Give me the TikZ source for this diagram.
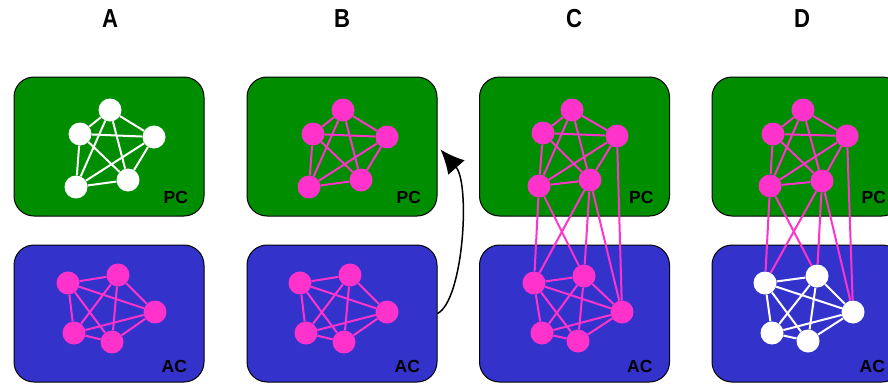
\documentclass[tikz,border=0pt]{standalone}
\usepackage{fontspec}
\setmainfont{Liberation Sans}
\usetikzlibrary{arrows.meta}

\definecolor{pcgreen}{RGB}{0,142,0}
\definecolor{acblue}{RGB}{51,51,204}
\definecolor{hub}{RGB}{255,51,204}

\tikzset{
  box/.style={draw=black, line width=1pt, rounded corners=20pt, inner sep=0pt,
    minimum width=190pt},
  pcbox/.style={box, fill=pcgreen, minimum height=139pt},
  acbox/.style={box, fill=acblue, minimum height=137pt},
  vtx/.style={circle, inner sep=0pt, minimum size=23pt, fill=#1},
  vtx/.default=hub,
  edge/.style={draw=#1, line width=2pt},
  edge/.default=hub,
  title/.style={font=\fontsize{26}{30}\selectfont\bfseries},
  area/.style={font=\fontsize{17.5}{20}\selectfont\bfseries, anchor=base east},
}

\newcommand{\clique}[2]{%
  \foreach \i/\j in {1/2,1/3,1/4,1/5,2/3,2/4,2/5,3/4,3/5,4/5}
    \draw[edge=#2] (#1\i) -- (#1\j);}

\begin{document}
\begin{tikzpicture}[x=1pt, y=-1pt]
  \useasboundingbox (0,0) rectangle (888,383);
  \clip (0,0) rectangle (888,383);

  % column headings
  \node[title] (tA) at (110,19) {\scalebox{0.85}[1]{A}};
  \node[title] (tB) at (342,19) {\scalebox{0.85}[1]{B}};
  \node[title] (tC) at (574,19) {\scalebox{0.85}[1]{C}};
  \node[title] (tD) at (802,19) {\scalebox{0.85}[1]{D}};

  % cortex boxes (y grows downwards here)
  \foreach \n/\x in {A/109, B/342, C/574.5, D/807} {
    \node[pcbox] (pc\n) at (\x,146.5) {};
    \node[acbox] (ac\n) at (\x,313.5) {};
    \node[area] (lpc\n) at ([shift={(-13,-13)}]pc\n.south east) {PC};
    \node[area] (lac\n) at ([shift={(-14,-10)}]ac\n.south east) {AC};
  }

  % ---- column A: white assembly in PC, pink assembly in AC
  \node[vtx=white] (Ap1) at (110,110) {};
  \node[vtx=white] (Ap2) at (80,134) {};
  \node[vtx=white] (Ap3) at (154,137) {};
  \node[vtx=white] (Ap4) at (76,187) {};
  \node[vtx=white] (Ap5) at (128,180) {};
  \clique{Ap}{white}
  \node[vtx] (Aa1) at (68,283) {};
  \node[vtx] (Aa2) at (118,275) {};
  \node[vtx] (Aa3) at (155,312) {};
  \node[vtx] (Aa4) at (74,333) {};
  \node[vtx] (Aa5) at (112,342) {};
  \clique{Aa}{hub}

  % ---- column B: both pink, transfer arrow AC -> PC
  \node[vtx] (Bp1) at (343,110) {};
  \node[vtx] (Bp2) at (313,134) {};
  \node[vtx] (Bp3) at (387,137) {};
  \node[vtx] (Bp4) at (309,187) {};
  \node[vtx] (Bp5) at (361,180) {};
  \clique{Bp}{hub}
  \node[vtx] (Ba1) at (300,283) {};
  \node[vtx] (Ba2) at (350,275) {};
  \node[vtx] (Ba3) at (387,312) {};
  \node[vtx] (Ba4) at (306,333) {};
  \node[vtx] (Ba5) at (344,342) {};
  \clique{Ba}{hub}
  \draw[line width=1.5pt, -{Latex[length=24pt, width=22pt]}]
    (acB.east) .. controls +(26,-13.5) and +(30,34) .. ([shift={(3,3)}]pcB.east);

  % ---- column C: linked assemblies
  \node[vtx] (Cp1) at (572,110) {};
  \node[vtx] (Cp2) at (543,133) {};
  \node[vtx] (Cp3) at (617,136) {};
  \node[vtx] (Cp4) at (539,186) {};
  \node[vtx] (Cp5) at (590,180) {};
  \node[vtx] (Ca1) at (534,283) {};
  \node[vtx] (Ca2) at (584,276) {};
  \node[vtx] (Ca3) at (622,312) {};
  \node[vtx] (Ca4) at (542,333) {};
  \node[vtx] (Ca5) at (578,341) {};
  \clique{Cp}{hub}
  \clique{Ca}{hub}
  \foreach \i/\j in {4/1,4/2,5/1,5/2,5/3,3/3}
    \draw[edge] (Cp\i) -- (Ca\j);

  % ---- column D: PC assembly recalls AC assembly (white)
  \node[vtx] (Dp1) at (803,110) {};
  \node[vtx] (Dp2) at (773,134) {};
  \node[vtx] (Dp3) at (847,136) {};
  \node[vtx] (Dp4) at (770,186) {};
  \node[vtx] (Dp5) at (822,181) {};
  \node[vtx=white] (Da1) at (765,283) {};
  \node[vtx=white] (Da2) at (817,276) {};
  \node[vtx=white] (Da3) at (853,312) {};
  \node[vtx=white] (Da4) at (772,333) {};
  \node[vtx=white] (Da5) at (808,341) {};
  \clique{Dp}{hub}
  \clique{Da}{white}
  \foreach \i/\j in {4/1,4/2,5/1,5/2,5/3,3/3}
    \draw[edge] (Dp\i) -- (Da\j);
\end{tikzpicture}
\end{document}
